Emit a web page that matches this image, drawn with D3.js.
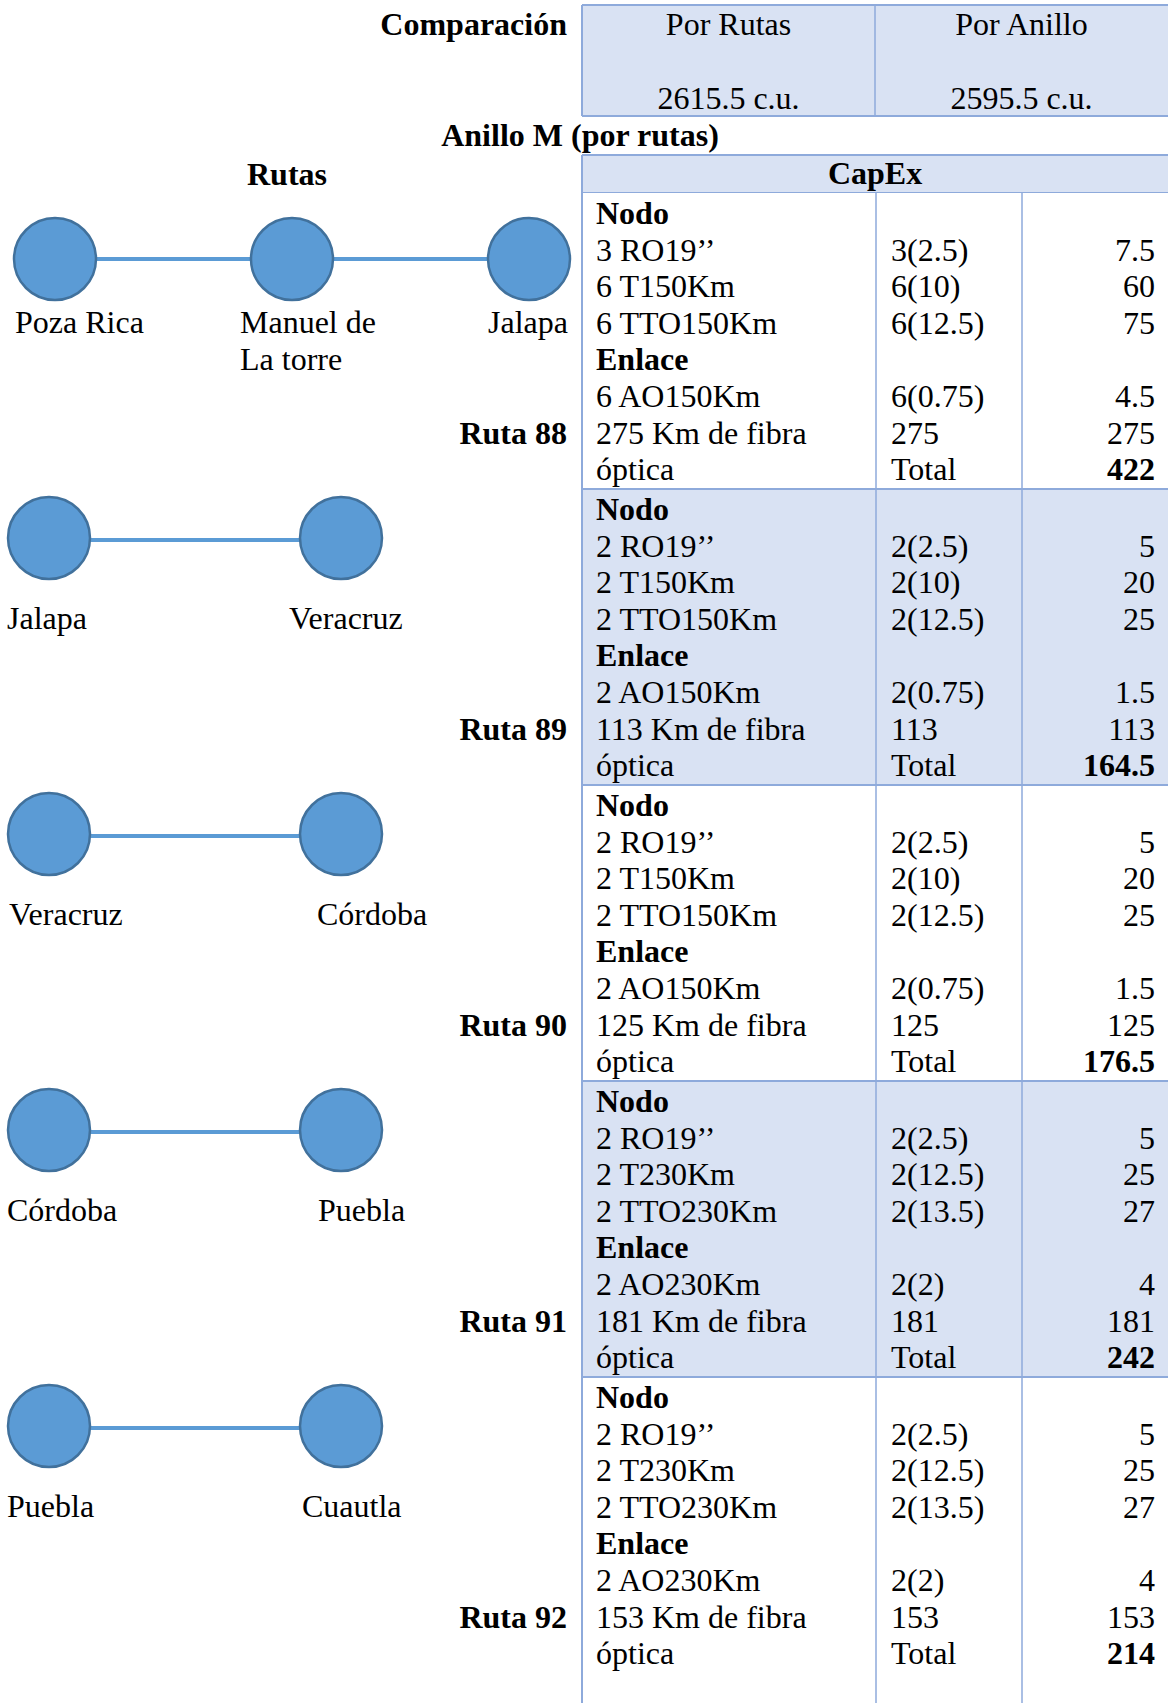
<!DOCTYPE html>
<html>
<head>
<meta charset="utf-8">
<script src="https://cdn.jsdelivr.net/npm/d3@7"></script>
<style>
  body { margin: 0; background: #fff; }
  svg { display: block; font-family: "Liberation Serif", "Times New Roman", serif; }
</style>
</head>
<body>
<div id="chart"></div>
<script>
// Data
// ****
const compLabels = ["Por Rutas", "Por Anillo"]
const compValues = ["2615.5 c.u.", "2595.5 c.u."]

const routes = ["Ruta 88", "Ruta 89", "Ruta 90", "Ruta 91", "Ruta 92"]
const routeNodes = [
  ["Poza Rica", "Manuel de\nLa torre", "Jalapa"],
  ["Jalapa", "Veracruz"],
  ["Veracruz", "Córdoba"],
  ["Córdoba", "Puebla"],
  ["Puebla", "Cuautla"]
]
const nodeItems = [
  ["3 RO19’’", "6 T150Km", "6 TTO150Km"],
  ["2 RO19’’", "2 T150Km", "2 TTO150Km"],
  ["2 RO19’’", "2 T150Km", "2 TTO150Km"],
  ["2 RO19’’", "2 T230Km", "2 TTO230Km"],
  ["2 RO19’’", "2 T230Km", "2 TTO230Km"]
]
const nodeUnits = [
  ["3(2.5)", "6(10)", "6(12.5)"],
  ["2(2.5)", "2(10)", "2(12.5)"],
  ["2(2.5)", "2(10)", "2(12.5)"],
  ["2(2.5)", "2(12.5)", "2(13.5)"],
  ["2(2.5)", "2(12.5)", "2(13.5)"]
]
const nodeCosts = [[7.5, 60, 75], [5, 20, 25], [5, 20, 25], [5, 25, 27], [5, 25, 27]]
const linkItems = ["6 AO150Km", "2 AO150Km", "2 AO150Km", "2 AO230Km", "2 AO230Km"]
const linkUnits = ["6(0.75)", "2(0.75)", "2(0.75)", "2(2)", "2(2)"]
const linkCosts = [4.5, 1.5, 1.5, 4, 4]
const fiberKm = [275, 113, 125, 181, 153]
const totals = [422, 164.5, 176.5, 242, 214]

// Layout
// ******
const width = 1168, height = 1703
const fs = 32
const fillBlue = "#D9E2F3", border = "#8EAADB"
const nodeFill = "#5B9BD5", nodeStroke = "#41719C"
const tableLeft = 582, col2 = 876, col3 = 1022, tableRight = 1168
const secTop = 193, secH = 296
// label start x for each station name (left column diagrams)
const labelX = [[15, 240, 488], [7, 289], [9, 317], [7, 318], [7, 302]]

const svg = d3.select("#chart").append("svg")
  .attr("width", width)
  .attr("height", height)
  .attr("font-size", fs)

// Build table rows per route
const tableRows = routes.map((r, i) => [
  {c: ["Nodo", "", ""], bold: [true, false, false]},
  {c: [nodeItems[i][0], nodeUnits[i][0], nodeCosts[i][0]]},
  {c: [nodeItems[i][1], nodeUnits[i][1], nodeCosts[i][1]]},
  {c: [nodeItems[i][2], nodeUnits[i][2], nodeCosts[i][2]]},
  {c: ["Enlace", "", ""], bold: [true, false, false]},
  {c: [linkItems[i], linkUnits[i], linkCosts[i]]},
  {c: [fiberKm[i] + " Km de fibra", fiberKm[i], fiberKm[i]]},
  {c: ["óptica", "Total", totals[i]], bold: [false, false, true]}
])

// Scales
const compX = d3.scaleBand().domain(compLabels).range([tableLeft, tableRight])
const secY = d3.scaleBand().domain(routes).range([secTop, secTop + secH * routes.length])
const rowY = d3.scaleLinear().domain([0, 7]).range([31, 31 + 7 * 36.6])

// Comparison table
// ****************
svg.append("text")
  .attr("x", 567).attr("y", 35)
  .attr("text-anchor", "end").attr("font-weight", "bold")
  .text("Comparación")

svg.append("rect")
  .attr("x", tableLeft).attr("y", 5)
  .attr("width", tableRight - tableLeft).attr("height", 111)
  .attr("fill", fillBlue)

const comp = svg.selectAll(".comp").data(compLabels).enter().append("g").attr("class", "comp")
comp.append("text")
  .attr("x", d => compX(d) + compX.bandwidth() / 2).attr("y", 35)
  .attr("text-anchor", "middle")
  .text(d => d)
comp.append("text")
  .attr("x", d => compX(d) + compX.bandwidth() / 2).attr("y", 109)
  .attr("text-anchor", "middle")
  .text((d, i) => compValues[i])

const hLine = (y, x1, x2, w) => svg.append("line")
  .attr("x1", x1).attr("x2", x2).attr("y1", y).attr("y2", y)
  .attr("stroke", border).attr("stroke-width", w)
const vLine = (x, y1, y2, w) => svg.append("line")
  .attr("x1", x).attr("x2", x).attr("y1", y1).attr("y2", y2)
  .attr("stroke", border).attr("stroke-width", w)

hLine(5, tableLeft, tableRight, 2)
hLine(116, tableLeft, tableRight, 2)
vLine(tableLeft, 5, 116, 2)
vLine(compX(compLabels[1]), 5, 116, 1.5)

svg.append("text")
  .attr("x", 580).attr("y", 146)
  .attr("text-anchor", "middle").attr("font-weight", "bold")
  .text("Anillo M (por rutas)")

// CapEx header
// ************
svg.append("rect")
  .attr("x", tableLeft).attr("y", 155)
  .attr("width", tableRight - tableLeft).attr("height", secTop - 155)
  .attr("fill", fillBlue)
svg.append("text")
  .attr("x", (tableLeft + tableRight) / 2).attr("y", 184)
  .attr("text-anchor", "middle").attr("font-weight", "bold")
  .text("CapEx")
hLine(155, tableLeft, tableRight, 2)
hLine(secTop, tableLeft, tableRight, 2)
vLine(tableLeft, 155, secTop, 2)

svg.append("text")
  .attr("x", 287).attr("y", 185)
  .attr("text-anchor", "middle").attr("font-weight", "bold")
  .text("Rutas")

// Route sections
// **************
const sec = svg.selectAll(".section").data(routes).enter().append("g")
  .attr("class", "section")
  .attr("transform", d => "translate(0, " + secY(d) + ")")

sec.append("rect")
  .attr("x", tableLeft).attr("y", 0)
  .attr("width", tableRight - tableLeft)
  .attr("height", (d, i) => i === routes.length - 1 ? height - secY(d) : secH)
  .attr("fill", (d, i) => i % 2 === 1 ? fillBlue : "#fff")

// table cells
const colPos = [{x: 596, anchor: "start"}, {x: 891, anchor: "start"}, {x: 1155, anchor: "end"}]
sec.each(function(d, i) {
  const g = d3.select(this)
  tableRows[i].forEach((row, r) => {
    row.c.forEach((val, c) => {
      if (val === "") return
      g.append("text")
        .attr("x", colPos[c].x).attr("y", rowY(r))
        .attr("text-anchor", colPos[c].anchor)
        .attr("font-weight", row.bold && row.bold[c] ? "bold" : "normal")
        .text(val)
    })
  })
})

// route label
sec.append("text")
  .attr("x", 567).attr("y", rowY(6))
  .attr("text-anchor", "end").attr("font-weight", "bold")
  .text(d => d)

// node diagrams
sec.each(function(d, i) {
  const g = d3.select(this)
  const nodes = routeNodes[i]
  const x = d3.scalePoint().domain(nodes)
    .range(nodes.length === 3 ? [55, 529] : [49, 341])
  const cy = nodes.length === 3 ? 66 : 49

  g.append("line")
    .attr("x1", x(nodes[0])).attr("x2", x(nodes[nodes.length - 1]))
    .attr("y1", cy + (nodes.length === 3 ? 0 : 2)).attr("y2", cy + (nodes.length === 3 ? 0 : 2))
    .attr("stroke", nodeFill).attr("stroke-width", 4)

  g.selectAll("circle").data(nodes).enter().append("circle")
    .attr("cx", n => x(n)).attr("cy", cy).attr("r", 41)
    .attr("fill", nodeFill)
    .attr("stroke", nodeStroke).attr("stroke-width", 2.5)

  nodes.forEach((n, k) => {
    const t = g.append("text").attr("x", labelX[i][k]).attr("y", 140)
    n.split("\n").forEach((line, l) => {
      t.append("tspan").attr("x", labelX[i][k]).attr("dy", l === 0 ? 0 : 37).text(line)
    })
  })
})

// section borders
routes.slice(0, -1).forEach(r => hLine(secY(r) + secH, tableLeft, tableRight, 2))
vLine(tableLeft, secTop, height, 2)
vLine(col2, secTop, height, 1.5)
vLine(col3, secTop, height, 1.5)
</script>
</body>
</html>
